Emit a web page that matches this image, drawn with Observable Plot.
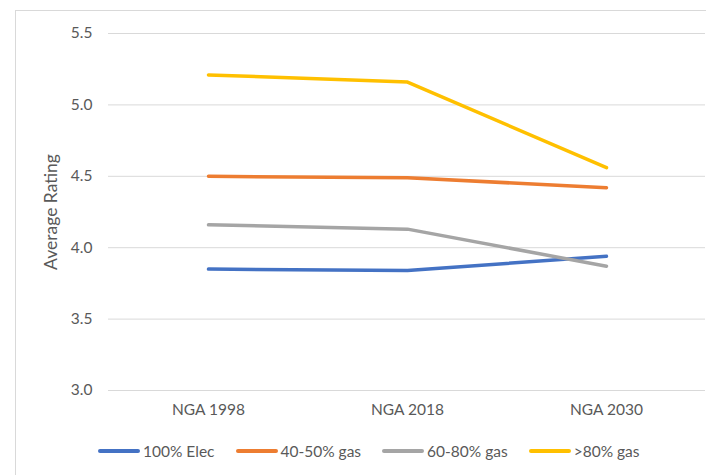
<!DOCTYPE html>
<html>
<head>
<meta charset="utf-8">
<script src="https://cdn.jsdelivr.net/npm/d3@7"></script>
<script src="https://cdn.jsdelivr.net/npm/@observablehq/plot@0.6"></script>
<style>
  html, body { margin: 0; padding: 0; background: #fff; }
  body { width: 706px; height: 475px; overflow: hidden; position: relative; font-family: Lato, "Liberation Sans", sans-serif; }
  #frame { position: absolute; left: 15px; top: 10px; width: 760px; height: 500px; border-left: 1px solid #d9d9d9; border-top: 1px solid #d9d9d9; box-sizing: border-box; }
  #chart { position: absolute; left: 0; top: 0; }
  #legend { position: absolute; left: 98px; top: 442px; display: flex; align-items: center; font-size: 15.5px; color: #595959; }
  .item { display: flex; align-items: center; margin-right: 21px; }
  .sw { width: 42px; height: 3.5px; border-radius: 2px; margin-right: 3px; }
</style>
</head>
<body>
<div id="frame"></div>
<div id="chart"></div>
<div id="legend"></div>
<script>
const categories = ["NGA 1998", "NGA 2018", "NGA 2030"];
const seriesNames = ["100% Elec", "40-50% gas", "60-80% gas", ">80% gas"];
const elec100 = [3.85, 3.84, 3.94];
const gas4050 = [4.50, 4.49, 4.42];
const gas6080 = [4.16, 4.13, 3.87];
const gas80 = [5.21, 5.16, 4.56];
const yTicks = [3.0, 3.5, 4.0, 4.5, 5.0, 5.5];
const colors = ["#4472C4", "#ED7D31", "#A5A5A5", "#FFC000"];

const seriesValues = [elec100, gas4050, gas6080, gas80];
const data = [];
seriesNames.forEach((s, i) => {
  categories.forEach((c, j) => data.push({series: s, cat: c, value: seriesValues[i][j]}));
});

const chart = Plot.plot({
  width: 706,
  height: 435,
  marginLeft: 108,
  marginRight: 1,
  marginTop: 33,
  marginBottom: 45,
  style: {fontFamily: "Lato, 'Liberation Sans', sans-serif", fontSize: "15.5px", color: "#595959", background: "transparent"},
  x: {type: "point", domain: categories, padding: 0.5, label: null},
  y: {domain: [3.0, 5.5]},
  color: {domain: seriesNames, range: colors},
  marks: [
    Plot.gridY(yTicks, {stroke: "#d9d9d9", strokeOpacity: 1, strokeWidth: 1}),
    Plot.axisY({ticks: yTicks, tickFormat: d3.format(".1f"), tickSize: 0, tickPadding: 16, label: "Average Rating", labelAnchor: "center", labelArrow: "none", labelOffset: 64, fontSize: 15.5}),
    Plot.axisX({tickSize: 0, tickPadding: 13, label: null, fontSize: 15.5}),
    Plot.line(data, {x: "cat", y: "value", z: "series", stroke: "series", strokeWidth: 3.5, strokeLinecap: "round", strokeLinejoin: "round"})
  ]
});
d3.select(chart).selectAll('[aria-label="y-axis label"] text').style("font-size", "17.5px");
document.getElementById("chart").appendChild(chart);

const legend = document.getElementById("legend");
seriesNames.forEach((s, i) => {
  const item = document.createElement("div");
  item.className = "item";
  const sw = document.createElement("div");
  sw.className = "sw";
  sw.style.background = colors[i];
  const t = document.createElement("span");
  t.textContent = s;
  item.appendChild(sw);
  item.appendChild(t);
  legend.appendChild(item);
});
</script>
</body>
</html>
